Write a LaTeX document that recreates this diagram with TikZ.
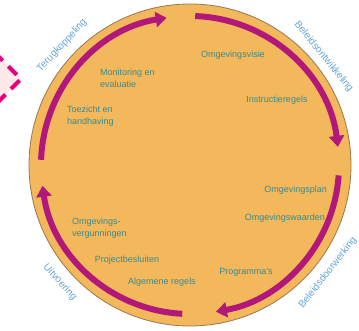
\documentclass[tikz,border=0pt]{standalone}
\usepackage{fontspec}
\setmainfont{Liberation Sans}
\usepackage{xcolor}
\usetikzlibrary{arrows.meta,positioning}

\definecolor{cyclefill}{RGB}{243,184,92}
\definecolor{cycleedge}{RGB}{150,120,80}
\definecolor{flowcol}{RGB}{178,24,122}
\definecolor{itemcol}{RGB}{58,138,140}
\definecolor{phasecol}{RGB}{100,165,215}
\definecolor{markcol}{RGB}{230,0,125}

\begin{document}
\begin{tikzpicture}[x=1pt,y=1pt,
    flow/.style={line width=6pt, flowcol, -{Triangle[width=15pt,length=11pt]}},
    item/.style={font=\fontsize{9}{12}\selectfont, text=itemcol, inner sep=0pt, align=left},
    phase/.style={font=\fontsize{10}{12}\selectfont, text=phasecol, inner sep=0pt}]
    \useasboundingbox (0,0) rectangle (359,330);

    % Pink marker at the left edge
    \draw[line width=4pt, markcol, dash pattern=on 12pt off 8pt, fill=pink!35]
        (-20,292) -- (21,251) -- (-20,210);

    % Cycle disc
    \node[circle, draw=cycleedge, line width=0.8pt, fill=cyclefill,
          minimum size=322pt, inner sep=0pt] (cycle) at (190,165) {};

    % Arrows round the cycle
    \foreach \a/\b in {178/99, 88/7, -4/-80, -93/-172}
        \draw[flow] ([shift={(\a:149)}]cycle.center) arc[start angle=\a, end angle=\b, radius=149];

    % Phases outside the disc
    \node[phase, rotate=47] (terug) at ([shift={(137:175)}]cycle.center) {Terugkoppeling};
    \node[phase, rotate=-51] (ontw) at ([shift={(39:172)}]cycle.center) {Beleidsontwikkeling};
    \node[phase, rotate=52] (doorw) at ([shift={(-38:175)}]cycle.center) {Beleidsdoorwerking};
    \node[phase, rotate=-48] (uitv) at ([shift={(-138:175)}]cycle.center) {Uitvoering};

    % Instruments inside the disc
    \node[item, anchor=west] (monitor) at (100,252) {Monitoring en\\evaluatie};
    \node[item, anchor=west] (toezicht) at (67,214) {Toezicht en\\handhaving};
    \node[item] (visie) at (233,275) {Omgevingsvisie};
    \node[item] (instr) at (277,230) {Instructieregels};
    \node[item, anchor=east] (plan) at (327,140) {Omgevingsplan};
    \node[item, anchor=east] (waarden) at (325,112) {Omgevingswaarden};
    \node[item] (progr) at (246,58) {Programma's};
    \node[item] (regels) at (162,48) {Algemene regels};
    \node[item] (projb) at (127,70) {Projectbesluiten};
    \node[item, anchor=west] (vergun) at (72,102) {Omgevings-\\vergunningen};
\end{tikzpicture}
\end{document}
